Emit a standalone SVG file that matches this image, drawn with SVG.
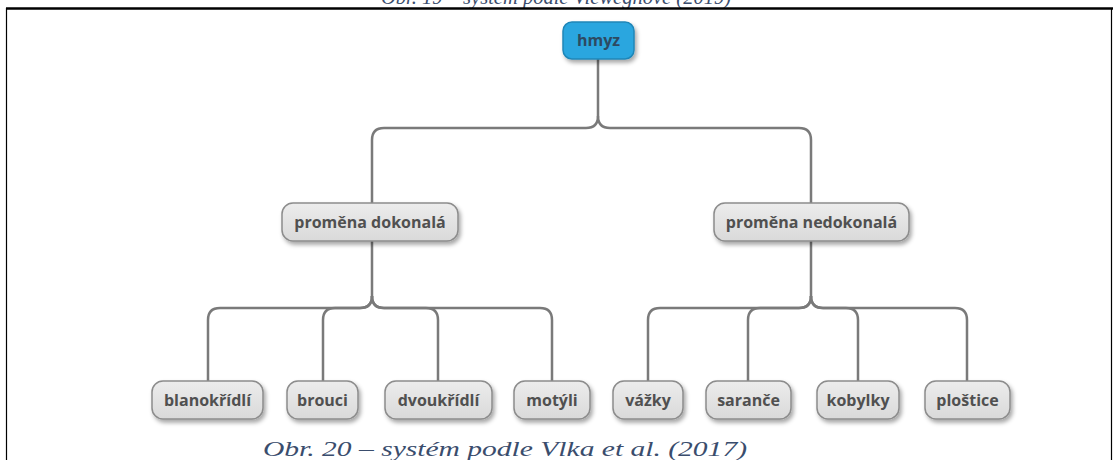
<svg xmlns="http://www.w3.org/2000/svg" width="1113" height="460" viewBox="0 0 1113 460">
  <defs>
    <linearGradient id="gray" x1="0" y1="0" x2="0" y2="1">
      <stop offset="0" stop-color="#ececec"/>
      <stop offset="1" stop-color="#d9d9d9"/>
    </linearGradient>
    <filter id="sh" x="-20%" y="-30%" width="150%" height="180%">
      <feDropShadow dx="2" dy="3" stdDeviation="2" flood-color="#000" flood-opacity="0.35"/>
    </filter>
  </defs>
  <style>
    .box { fill: url(#gray); stroke: #8c8c8c; stroke-width: 1.5; filter: url(#sh); }
    .root { fill: #29a6df; stroke: #1f86b8; stroke-width: 1.5; filter: url(#sh); }
    .lbl { font-family: "Open Sans", "DejaVu Sans", sans-serif; font-weight: bold; font-size: 16px; fill: #505050; text-anchor: middle; }
    .rlbl { font-family: "Open Sans", "DejaVu Sans", sans-serif; font-weight: bold; font-size: 16px; fill: #2d4a62; text-anchor: middle; }
    .conn path { fill: none; stroke: #7a7a7a; stroke-width: 2.5; }
    .cap { font-family: "Liberation Serif", serif; font-style: italic; font-size: 22px; fill: #3a4d6d; text-anchor: middle; }
  </style>
  <rect x="0" y="0" width="1113" height="460" fill="#ffffff"/>
  <text class="cap" x="556" y="4" textLength="350" lengthAdjust="spacingAndGlyphs">Obr. 19 – systém podle Vieweghové (2019)</text>
  <line x1="6" y1="8.5" x2="1113" y2="8.5" stroke="#000" stroke-width="2.5"/>
  <line x1="6.5" y1="8" x2="6.5" y2="460" stroke="#000" stroke-width="1.2"/>
  <line x1="1111.5" y1="8" x2="1111.5" y2="460" stroke="#000" stroke-width="1.2"/>

  <g id="connectors" class="conn">
    <path d="M598 59 V116 Q598 128 586 128 H384 Q372 128 372 140 V203"/>
    <path d="M598 116 Q598 128 610 128 H799 Q811 128 811 140 V203"/>
    <path d="M372 241 V296 Q372 308 360 308 H220 Q208 308 208 320 V381"/>
    <path d="M372 296 Q372 308 360 308 H335 Q323 308 323 320 V381"/>
    <path d="M372 296 Q372 308 384 308 H426 Q438 308 438 320 V381"/>
    <path d="M372 296 Q372 308 384 308 H540 Q552 308 552 320 V381"/>
    <path d="M811 241 V296 Q811 308 799 308 H660 Q648 308 648 320 V381"/>
    <path d="M811 296 Q811 308 799 308 H760 Q748 308 748 320 V381"/>
    <path d="M811 296 Q811 308 823 308 H846 Q858 308 858 320 V381"/>
    <path d="M811 296 Q811 308 823 308 H955 Q967 308 967 320 V381"/>
  </g>

  <g id="hmyz">
    <rect class="root" x="563" y="22" width="71" height="37" rx="9"/>
    <text class="rlbl" x="598.5" y="46">hmyz</text>
  </g>
  <g id="promena-dokonala">
    <rect class="box" x="282" y="203" width="176" height="38" rx="11"/>
    <text class="lbl" x="370" y="227.5">proměna dokonalá</text>
  </g>
  <g id="promena-nedokonala">
    <rect class="box" x="714" y="203" width="195" height="38" rx="11"/>
    <text class="lbl" x="811.5" y="227.5">proměna nedokonalá</text>
  </g>
  <g id="blanokridli">
    <rect class="box" x="152" y="381" width="111" height="38" rx="11"/>
    <text class="lbl" x="207.5" y="405.5">blanokřídlí</text>
  </g>
  <g id="brouci">
    <rect class="box" x="287" y="381" width="71" height="38" rx="11"/>
    <text class="lbl" x="322.5" y="405.5">brouci</text>
  </g>
  <g id="dvoukridli">
    <rect class="box" x="385" y="381" width="107" height="38" rx="11"/>
    <text class="lbl" x="438.5" y="405.5">dvoukřídlí</text>
  </g>
  <g id="motyli">
    <rect class="box" x="514" y="381" width="76" height="38" rx="11"/>
    <text class="lbl" x="552" y="405.5">motýli</text>
  </g>
  <g id="vazky">
    <rect class="box" x="613" y="381" width="70" height="38" rx="11"/>
    <text class="lbl" x="648" y="405.5">vážky</text>
  </g>
  <g id="sarance">
    <rect class="box" x="706" y="381" width="85" height="38" rx="11"/>
    <text class="lbl" x="748.5" y="405.5">saranče</text>
  </g>
  <g id="kobylky">
    <rect class="box" x="817" y="381" width="82" height="38" rx="11"/>
    <text class="lbl" x="858" y="405.5">kobylky</text>
  </g>
  <g id="plostice">
    <rect class="box" x="925" y="381" width="85" height="38" rx="11"/>
    <text class="lbl" x="967.5" y="405.5">ploštice</text>
  </g>

  <text class="cap" x="505" y="456" textLength="484" lengthAdjust="spacingAndGlyphs" text-anchor="start" style="text-anchor:start" dx="-242">Obr. 20 – systém podle Vlka et al. (2017)</text>
</svg>
